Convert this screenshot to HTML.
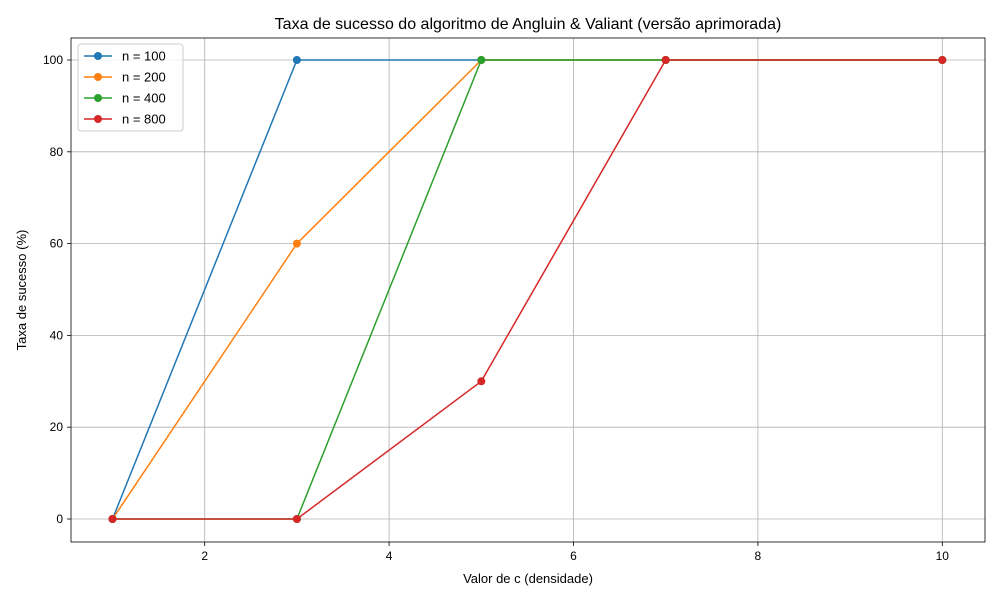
<!DOCTYPE html>
<html><head><meta charset="utf-8"><style>
body{margin:0;background:#fff;}
svg text{font-family:"Liberation Sans","DejaVu Sans",sans-serif;}
</style></head><body>
<svg id="chart" width="1000" height="600" xmlns="http://www.w3.org/2000/svg"></svg>
<script>
const xValues = [1, 3, 5, 7, 10];
const seriesNames = ["n = 100", "n = 200", "n = 400", "n = 800"];
const s100 = [0, 100, 100, 100, 100];
const s200 = [0, 60, 100, 100, 100];
const s400 = [0, 0, 100, 100, 100];
const s800 = [0, 0, 30, 100, 100];
const xTicks = [2, 4, 6, 8, 10];
const yTicks = [0, 20, 40, 60, 80, 100];
const colors = ["#1f77b4", "#ff7f0e", "#2ca02c", "#d62728"];

const L = 71, R = 985, T = 38, B = 542;
const xs = v => 112.5 + (v - 1) * 92.2;
const ys = v => 519 - v * 4.59;
const svg = document.getElementById('chart');
const NS = 'http://www.w3.org/2000/svg';
function mk(tag, attrs, parent) {
  const e = document.createElementNS(NS, tag);
  for (const k in attrs) e.setAttribute(k, attrs[k]);
  (parent || svg).appendChild(e);
  return e;
}
// grid
xTicks.forEach(t => {
  const g = mk('line', {x1: xs(t), x2: xs(t), y1: T, y2: B, stroke: '#b0b0b0', 'stroke-width': 0.8});
  
  
  mk('line', {x1: xs(t), x2: xs(t), y1: B, y2: B + 4, stroke: '#000', 'stroke-width': 0.8});
  const tx = mk('text', {x: xs(t), y: B + 18, 'font-size': 12, 'text-anchor': 'middle'});
  tx.textContent = t;
  
  
});
yTicks.forEach(t => {
  const g = mk('line', {x1: L, x2: R, y1: ys(t), y2: ys(t), stroke: '#b0b0b0', 'stroke-width': 0.8});
  
  
  mk('line', {x1: L - 4, x2: L, y1: ys(t), y2: ys(t), stroke: '#000', 'stroke-width': 0.8});
  const tx = mk('text', {x: L - 8, y: ys(t) + 4, 'font-size': 12, 'text-anchor': 'end'});
  tx.textContent = t;
  
  
});
// series
const all = [s100, s200, s400, s800];
all.forEach((s, i) => {
  const pts = s.map((v, j) => xs(xValues[j]) + ',' + ys(v)).join(' ');
  const pl = mk('polyline', {points: pts, fill: 'none', stroke: colors[i], 'stroke-width': 1.5});
  
  
  s.forEach((v, j) => {
    const c = mk('circle', {cx: xs(xValues[j]), cy: ys(v), r: 4, fill: colors[i]});
    
    
  });
});
// frame
const fr = mk('rect', {x: L, y: T, width: R - L, height: B - T, fill: 'none', stroke: '#000', 'stroke-width': 0.8});


// title & labels
const title = mk('text', {x: (L + R) / 2, y: 29, 'font-size': 16, 'text-anchor': 'middle'});
title.textContent = 'Taxa de sucesso do algoritmo de Angluin & Valiant (versão aprimorada)';


const xl = mk('text', {x: (L + R) / 2, y: 583, 'font-size': 13, 'text-anchor': 'middle'});
xl.textContent = 'Valor de c (densidade)';


const yl = mk('text', {x: 26, y: (T + B) / 2, 'font-size': 13, 'text-anchor': 'middle', transform: 'rotate(-90 26 ' + (T + B) / 2 + ')'});
yl.textContent = 'Taxa de sucesso (%)';


// legend
const lg = mk('g', {});


mk('rect', {x: 78, y: 44, width: 105, height: 87, rx: 3, fill: '#fff', 'fill-opacity': 0.8, stroke: '#ccc'}, lg);
seriesNames.forEach((n, i) => {
  const y = 56 + i * 21;
  const e = mk('g', {}, lg);
  
  
  mk('line', {x1: 84, x2: 112, y1: y, y2: y, stroke: colors[i], 'stroke-width': 1.5}, e);
  mk('circle', {cx: 98, cy: y, r: 4, fill: colors[i]}, e);
  const t = mk('text', {x: 122, y: y + 4.5, 'font-size': 13}, e);
  t.textContent = n;
});
</script>
</body></html>
